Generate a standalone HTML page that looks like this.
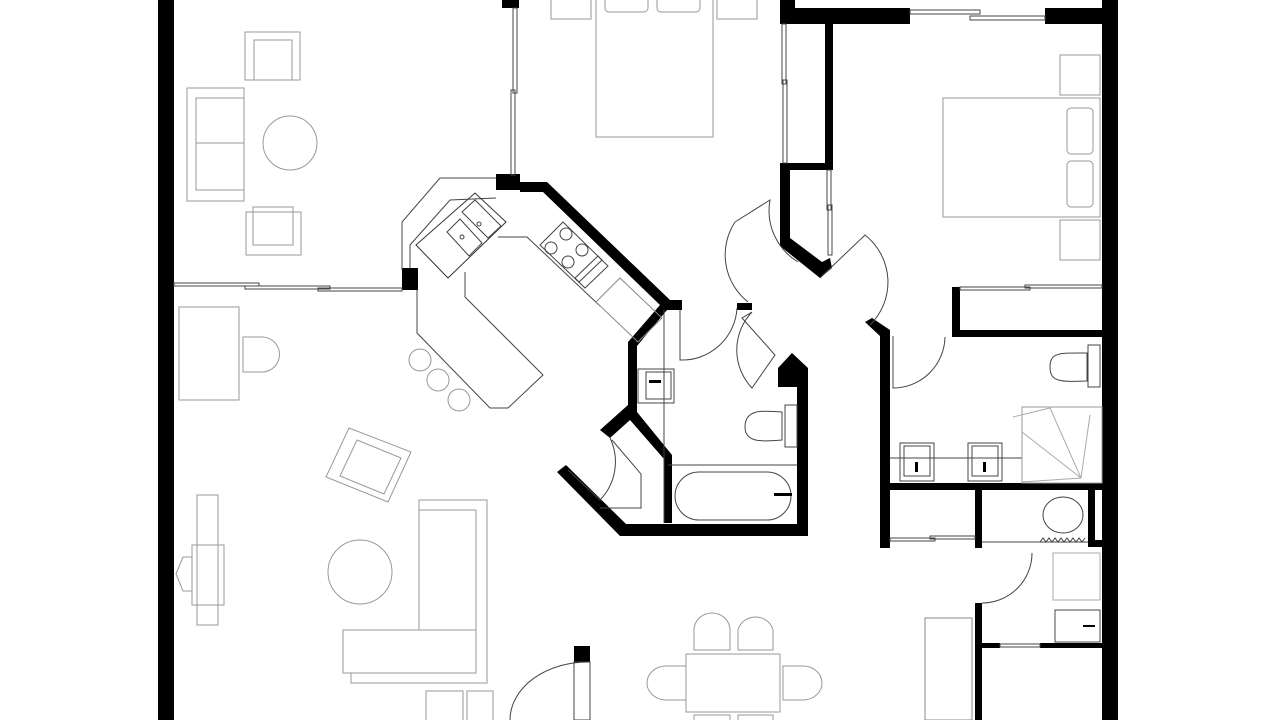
<!DOCTYPE html>
<html><head><meta charset="utf-8"><style>html,body{margin:0;padding:0;background:#fff}svg{display:block}</style></head>
<body>
<svg width="1280" height="720" viewBox="0 0 1280 720" xmlns="http://www.w3.org/2000/svg">
<rect width="1280" height="720" fill="#fff"/>
<g fill="#000">
<rect x="158" y="0" width="16" height="720"/>
<rect x="1102" y="0" width="16" height="720"/>
<rect x="780" y="0" width="15" height="24"/>
<rect x="780" y="8" width="130" height="16"/>
<rect x="1045" y="8" width="57" height="16"/>
<rect x="825" y="24" width="8" height="145"/>
<rect x="780" y="163" width="53" height="7"/>
<polygon points="780,165 790,165 790,238 822,262 830,258 832,268 820,278 780,246"/>
<rect x="502" y="0" width="17" height="8"/>
<rect x="496" y="174" width="24" height="16"/>
<polygon points="520,182 547,182 670,300 682,300 682,310 667,310 637,346 637,405 628,405 628,342 660,305 543,192 520,192"/>
<polygon points="628,405 637,405 637,412 672,455 672,523 664,523 664,459 630,420 610,438 600,430"/>
<polygon points="557,472 566,465 626,524 626,536 620,536"/>
<rect x="620" y="524" width="188" height="12"/>
<rect x="797" y="370" width="11" height="166"/>
<polygon points="778,368 792,353 808,368 808,387 778,387"/>
<rect x="737" y="303" width="15" height="7"/>
<polygon points="865,322 872,318 890,330 890,548 880,548 880,336"/>
<rect x="952" y="287" width="8" height="48"/>
<rect x="952" y="330" width="150" height="7"/>
<rect x="882" y="483" width="220" height="7"/>
<rect x="975" y="490" width="7" height="58"/>
<rect x="1088" y="490" width="7" height="57"/>
<rect x="1088" y="540" width="14" height="7"/>
<rect x="975" y="603" width="7" height="117"/>
<rect x="982" y="643" width="18" height="5"/>
<rect x="1040" y="643" width="62" height="5"/>
<rect x="402" y="268" width="16" height="22"/>
<rect x="574" y="646" width="16" height="16"/>
</g>
<g fill="none" stroke="#444" stroke-width="1">
<rect x="910" y="10" width="70" height="4"/><rect x="970" y="16" width="75" height="4"/>
<rect x="513" y="8" width="4" height="85"/><rect x="511" y="90" width="4" height="85"/>
<rect x="782" y="24" width="4" height="60"/><rect x="783" y="80" width="4" height="83"/>
<rect x="827" y="170" width="4" height="40"/><rect x="828" y="205" width="4" height="50"/>
<rect x="174" y="283" width="85" height="3"/><rect x="245" y="286" width="85" height="3"/><rect x="318" y="288" width="84" height="3"/>
<rect x="960" y="287" width="70" height="3"/><rect x="1025" y="285" width="77" height="3"/>
<rect x="890" y="538" width="45" height="3"/><rect x="930" y="536" width="45" height="3"/>
<rect x="1000" y="644" width="40" height="3"/>
<line x1="664" y1="310" x2="664" y2="523"/>
<path d="M680,310 L680,360 A55,55 0 0 0 737,308"/>
<path d="M752,312 L742,318 L775,355 L752,388 A55,55 0 0 1 752,312"/>
<path d="M735,222 L770,200 A60,60 0 0 0 798,262"/>
<path d="M735,222 A60,60 0 0 0 748,302"/>
<path d="M820,278 L865,235 A60,60 0 0 1 870,325"/>
<path d="M893,336 L893,388 A52,52 0 0 0 945,337"/>
<path d="M982,603 A50,50 0 0 0 1032,553"/>
<path d="M590,662 A78,58 0 0 0 510,720"/>
<rect x="574" y="662" width="16" height="58"/>
<path d="M610,438 A55,55 0 0 1 600,500 L568,470"/>
<polyline points="612,440 641,474 641,508 600,508"/>
<rect x="638" y="369" width="36" height="34"/><rect x="646" y="372" width="25" height="27"/>
<path d="M745,427 C745,410 760,410 782,412 L782,440 C760,442 745,442 745,427Z"/>
<rect x="785" y="405" width="12" height="42"/>
<line x1="668" y1="465" x2="797" y2="465"/>
<rect x="675" y="472" width="116" height="48" rx="24"/>
<path d="M1050,367 C1050,352 1060,353 1087,353 L1087,381 C1060,382 1050,382 1050,367Z"/>
<rect x="1088" y="345" width="12" height="42"/>
<line x1="890" y1="458" x2="1022" y2="458"/>
<rect x="900" y="443" width="34" height="38"/><rect x="904" y="446" width="26" height="30"/>
<rect x="968" y="443" width="34" height="38"/><rect x="972" y="446" width="26" height="30"/>
<rect x="1022" y="407" width="80" height="76" stroke="#999"/>
<path d="M1013,417 L1050,408 L1081,478 L1022,482 M1022,432 L1081,478 L1090,415" stroke="#aaa"/>
<ellipse cx="1063" cy="515" rx="20" ry="18"/>
<path d="M1040,542 l3,-4 l3,4 l3,-4 l3,4 l3,-4 l3,4 l3,-4 l3,4 l3,-4 l3,4 l3,-4 l3,4 l3,-4 l3,4 l3,-4" />
<line x1="982" y1="542" x2="1088" y2="542"/>
<rect x="1053" y="553" width="47" height="47" stroke="#aaa"/>
<rect x="1055" y="610" width="45" height="32"/>
<rect x="925" y="618" width="47" height="102" stroke="#888"/>
<polyline points="402,270 402,222 440,178 496,178"/>
<polyline points="410,268 410,245 450,200 496,198"/>
<polygon points="416,245 475,193 506,222 448,278" stroke="#333"/>
<polygon points="447,232 460,219 482,243 469,256"/>
<polygon points="462,212 475,200 501,226 488,238"/>
<circle cx="462" cy="237" r="2"/><circle cx="479" cy="224" r="2"/>
<polyline points="417,290 417,333 490,408 508,408 543,375 465,297 465,272"/>
<polyline points="498,237 527,237 600,306"/>
<polygon points="540,245 563,222 608,266 585,288"/>
<circle cx="551" cy="248" r="6"/><circle cx="566" cy="234" r="6"/><circle cx="568" cy="262" r="6"/><circle cx="582" cy="250" r="6"/>
<polygon points="575,278 598,256 602,260 579,282"/>
<polygon points="596,302 620,278 662,318 638,342" stroke="#888"/>
<g stroke="#999"><circle cx="420" cy="360" r="11"/><circle cx="438" cy="380" r="11"/><circle cx="459" cy="400" r="11"/></g>
<g stroke="#999">
<rect x="551" y="-2" width="40" height="21"/><rect x="717" y="-2" width="40" height="21"/>
<rect x="596" y="-2" width="117" height="139"/>
<rect x="605" y="-6" width="43" height="18" rx="4"/><rect x="657" y="-6" width="43" height="18" rx="4"/>
<rect x="245" y="32" width="55" height="48"/><rect x="254" y="40" width="38" height="40"/>
<rect x="187" y="88" width="57" height="113"/><rect x="196" y="98" width="48" height="92"/><line x1="196" y1="143" x2="244" y2="143"/>
<ellipse cx="290" cy="143" rx="27" ry="27"/>
<rect x="246" y="212" width="55" height="43"/><rect x="253" y="207" width="40" height="38"/>
<rect x="943" y="98" width="157" height="119"/>
<rect x="1067" y="108" width="26" height="46" rx="4"/><rect x="1067" y="161" width="26" height="46" rx="4"/>
<rect x="1060" y="55" width="40" height="40"/><rect x="1060" y="220" width="40" height="40"/>
<rect x="179" y="307" width="60" height="93"/>
<path d="M243,337 L262,337 A17,17 0 0 1 262,372 L243,372Z"/>
<polygon points="349,428 411,452 388,502 326,477"/>
<polygon points="357,440 401,458 384,494 340,476"/>
<rect x="197" y="495" width="21" height="130"/><rect x="192" y="545" width="32" height="60"/>
<polygon points="192,557 183,557 176,574 183,591 192,591"/>
<ellipse cx="360" cy="572" rx="32" ry="32"/>
<polyline points="419,510 419,500 487,500 487,683 351,683 351,673"/>
<rect x="419" y="510" width="57" height="120"/>
<rect x="343" y="630" width="133" height="43"/>
<rect x="426" y="691" width="37" height="35"/><rect x="467" y="691" width="26" height="35"/>
<rect x="686" y="654" width="94" height="58"/>
<path d="M694,650 L694,630 A18,17 0 0 1 730,630 L730,650Z"/>
<path d="M738,650 L738,630 A18,17 0 0 1 773,630 L773,650Z"/>
<path d="M686,666 L666,666 A19,17 0 0 0 666,700 L686,700Z"/>
<path d="M783,666 L803,666 A19,17 0 0 1 803,700 L783,700Z"/>
<rect x="694" y="715" width="36" height="10"/><rect x="738" y="715" width="35" height="10"/>
</g>
</g>
<g fill="#000">
<rect x="649" y="380" width="12" height="3"/>
<rect x="774" y="493" width="18" height="3"/>
<rect x="915" y="462" width="3" height="10"/><rect x="983" y="462" width="3" height="10"/>
<rect x="1083" y="625" width="12" height="2"/>
</g>
</svg>
</body></html>
